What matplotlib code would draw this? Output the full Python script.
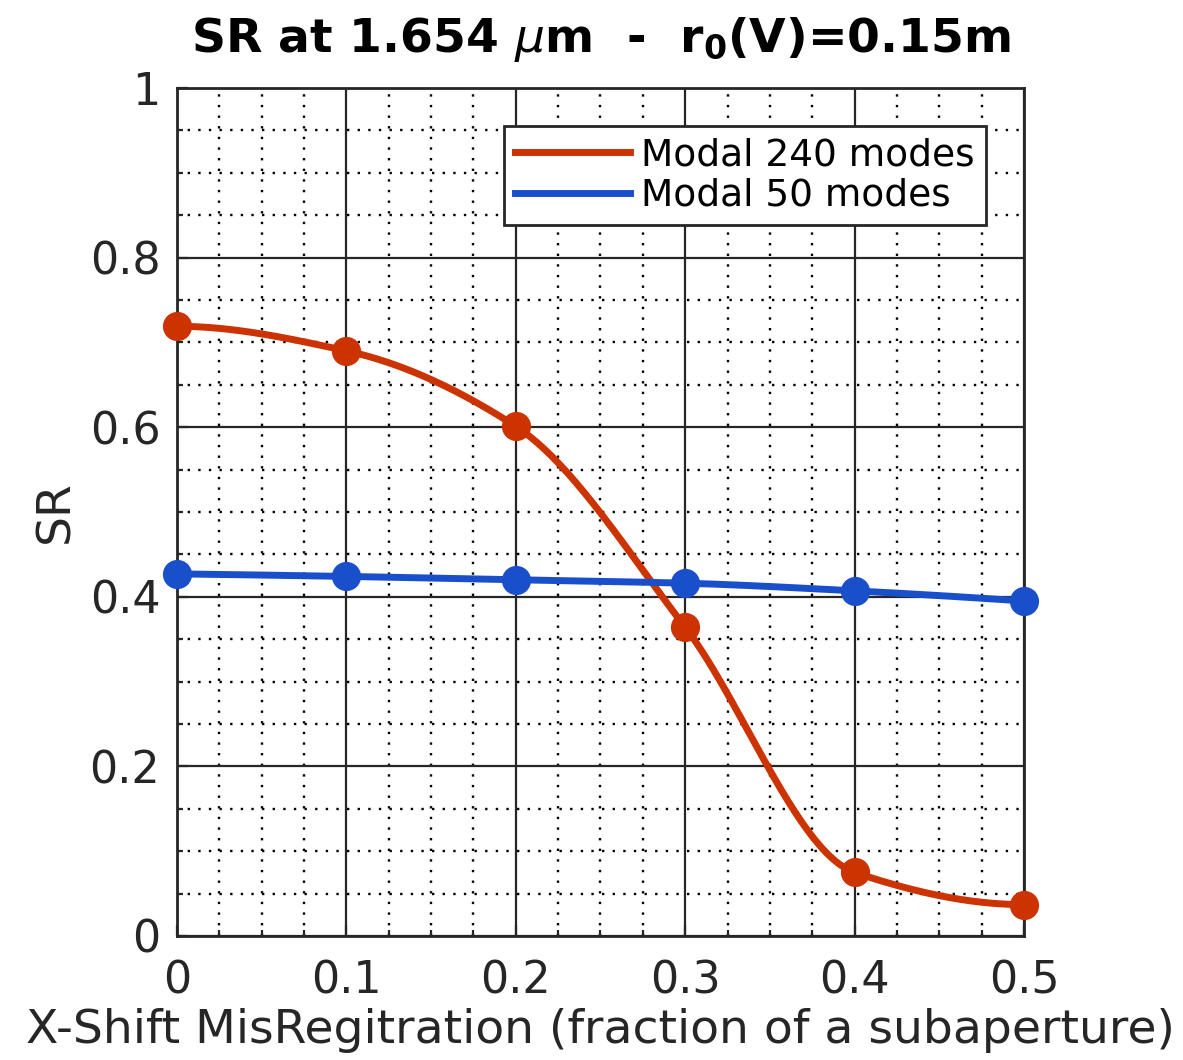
import numpy as np
import matplotlib
matplotlib.use("Agg")
import matplotlib.pyplot as plt
from matplotlib.ticker import MultipleLocator, FuncFormatter

# Data
shift = [0.0, 0.1, 0.2, 0.3, 0.4, 0.5]
sr_240 = [0.719, 0.690, 0.601, 0.364, 0.075, 0.037]
sr_50 = [0.427, 0.424, 0.420, 0.416, 0.407, 0.395]
labels = ["Modal 240 modes", "Modal 50 modes"]

red = "#CC3300"
blue = "#1A4FCC"
dark = "#262626"


# shape preserving cubic (like MATLAB pchip) to draw the smooth line
def pchip(x, y, xn):
    x = np.asarray(x, float)
    y = np.asarray(y, float)
    h = np.diff(x)
    d = np.diff(y) / h
    n = len(x)
    m = np.zeros(n)
    for k in range(1, n - 1):
        if d[k - 1] * d[k] > 0:
            w1 = 2 * h[k] + h[k - 1]
            w2 = h[k] + 2 * h[k - 1]
            m[k] = (w1 + w2) / (w1 / d[k - 1] + w2 / d[k])
    m[0] = ((2 * h[0] + h[1]) * d[0] - h[0] * d[1]) / (h[0] + h[1])
    if np.sign(m[0]) != np.sign(d[0]):
        m[0] = 0
    m[-1] = ((2 * h[-1] + h[-2]) * d[-1] - h[-1] * d[-2]) / (h[-1] + h[-2])
    if np.sign(m[-1]) != np.sign(d[-1]):
        m[-1] = 0
    idx = np.clip(np.searchsorted(x, xn) - 1, 0, n - 2)
    t = (xn - x[idx]) / h[idx]
    h00 = 2 * t**3 - 3 * t**2 + 1
    h10 = t**3 - 2 * t**2 + t
    h01 = -2 * t**3 + 3 * t**2
    h11 = t**3 - t**2
    return h00 * y[idx] + h10 * h[idx] * m[idx] + h01 * y[idx + 1] + h11 * h[idx] * m[idx + 1]


def fmt(v, pos):
    s = "%.1f" % v
    if s.endswith(".0"):
        s = s[:-2]
    return s


fig = plt.figure(figsize=(11.83, 10.6), dpi=100)
ax = fig.add_axes([0.1496, 0.117, 0.716, 0.800])

xf = np.linspace(shift[0], shift[-1], 400)
ax.plot(xf, pchip(shift, sr_240, xf), color=red, lw=5, label=labels[0], zorder=3)
ax.plot(xf, pchip(shift, sr_50, xf), color=blue, lw=5, label=labels[1], zorder=3)
ax.plot(shift, sr_240, "o", color=red, ms=20, zorder=4, clip_on=False)
ax.plot(shift, sr_50, "o", color=blue, ms=20, zorder=4, clip_on=False)

ax.set_xlim(0, 0.5)
ax.set_ylim(0, 1)
ax.xaxis.set_major_locator(MultipleLocator(0.1))
ax.xaxis.set_minor_locator(MultipleLocator(0.025))
ax.yaxis.set_major_locator(MultipleLocator(0.2))
ax.yaxis.set_minor_locator(MultipleLocator(0.05))
ax.xaxis.set_major_formatter(FuncFormatter(fmt))
ax.yaxis.set_major_formatter(FuncFormatter(fmt))

ax.grid(which="major", color=dark, lw=1.6, ls="-")
ax.grid(which="minor", color="black", lw=1.7, ls=(0, (1, 3.5)))
ax.set_axisbelow(True)

ax.tick_params(which="both", direction="in", colors=dark, labelsize=32, width=1.6)
ax.tick_params(which="major", length=8)
ax.tick_params(which="minor", length=4)
ax.tick_params(axis="x", which="major", pad=17)
ax.tick_params(axis="y", which="major", pad=12)
for s in ax.spines.values():
    s.set_color(dark)
    s.set_linewidth(2)

ax.set_xlabel("X-Shift MisRegitration (fraction of a subaperture)", fontsize=34, color=dark, labelpad=4)
ax.set_ylabel("SR", fontsize=34, color=dark, labelpad=8)
ax.set_title(r"SR at 1.654 $\mu$m  -  r$_\mathbf{0}$(V)=0.15m", fontsize=34, fontweight="bold", pad=26)

leg = ax.legend(loc="upper right", bbox_to_anchor=(0.955, 0.955), fontsize=27, handlelength=3.05,
                fancybox=False, framealpha=1, edgecolor=dark, borderpad=0.3, labelspacing=0.12,
                handletextpad=0.3, borderaxespad=0)
leg.get_frame().set_linewidth(2)

fig.savefig("out.png", dpi=100)
